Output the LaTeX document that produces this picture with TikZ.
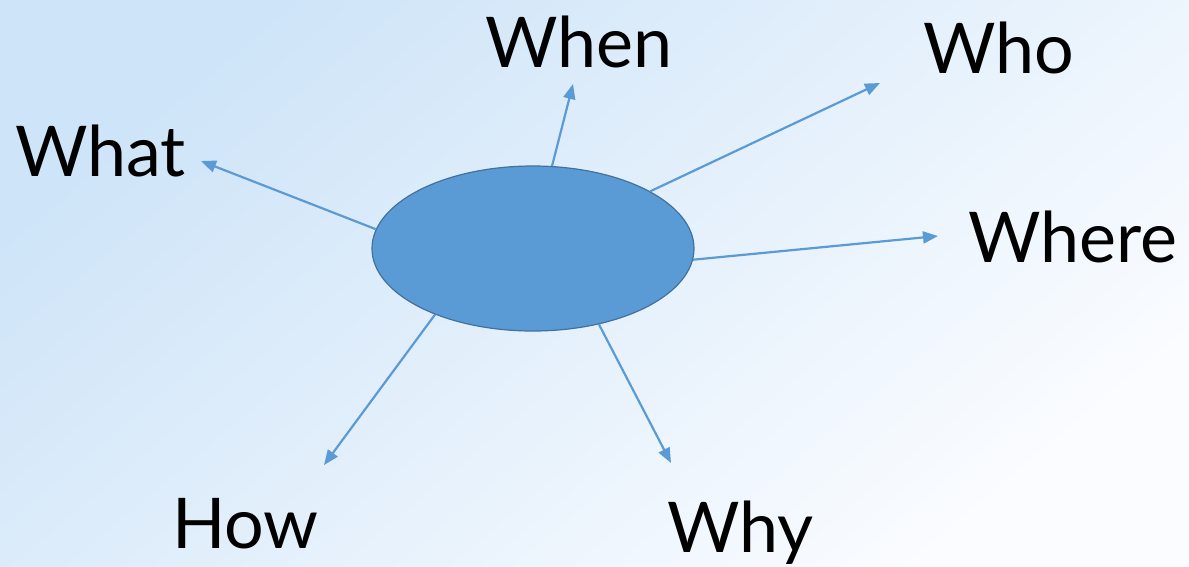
\documentclass[tikz,border=0pt]{standalone}
\usepackage{fontspec}
\setmainfont{Lato}
\usetikzlibrary{shapes.geometric,arrows.meta}
\definecolor{bgleft}{RGB}{206,228,248}
\definecolor{bgend}{RGB}{250,252,255}
\definecolor{ellfill}{RGB}{91,155,213}
\definecolor{elldraw}{RGB}{65,113,156}
\definecolor{arrowc}{RGB}{91,155,213}
\tikzset{
  word/.style={anchor=base west, inner sep=0pt, font=\fontsize{70}{78}\selectfont, text=black},
  conn/.style={draw=arrowc, line width=2.2pt, -{Triangle[length=15pt,width=12pt]}},
  blob/.style={ellipse, draw=elldraw, line width=1.2pt, fill=ellfill, minimum width=322pt, minimum height=165pt, inner sep=0pt}
}
\begin{document}
\begin{tikzpicture}[x=1pt,y=-1pt]
\useasboundingbox (0,0) rectangle (1189,566);
\shade[left color=bgleft, right color=bgend, shading angle=40] (0,0) rectangle (1189,566);
\node[blob] (e) at (533,248.5) {};
\coordinate (tWhat) at (201,161);
\coordinate (tWhen) at (573,84);
\coordinate (tWho) at (880,83);
\coordinate (tWhere) at (938,236);
\coordinate (tHow) at (324,465);
\coordinate (tWhy) at (671,463);
\draw[conn] (e.173.4) -- (tWhat);
\draw[conn] (e.77.5) -- (tWhen);
\draw[conn] (e.26.2) -- (tWho);
\draw[conn] (e.-4.4) -- (tWhere);
\draw[conn] (e.214.5) -- (tHow);
\draw[conn] (e.311.1) -- (tWhy);
\node[word] (When) at (485,67) {When};
\node[word] (Who) at (923,73) {Who};
\node[word] (What) at (15,176) {What};
\node[word] (Where) at (968,262) {Where};
\node[word] (How) at (172,548) {How};
\node[word] (Why) at (667,552) {Why};
\end{tikzpicture}
\end{document}
